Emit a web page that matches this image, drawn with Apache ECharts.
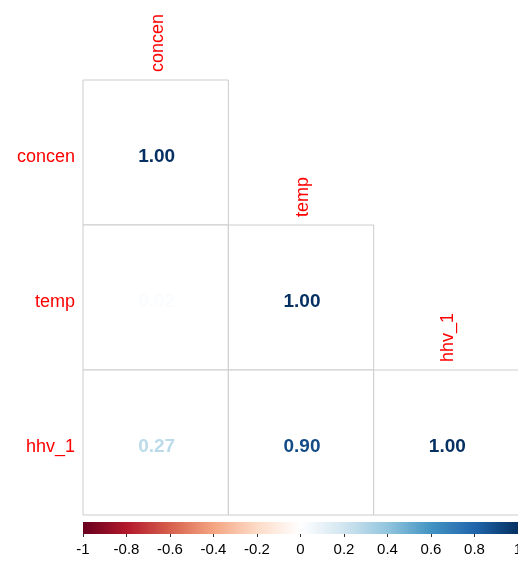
<!DOCTYPE html>
<html>
<head>
<meta charset="utf-8">
<script src="https://cdn.jsdelivr.net/npm/echarts@6/dist/echarts.min.js"></script>
<style>html,body{margin:0;padding:0;background:#fff;}#main{width:518px;height:564px;}</style>
</head>
<body>
<div id="main"></div>
<script>
const variables = ['concen', 'temp', 'hhv_1'];
const corrMatrix = [
  [1.00, 0.02, 0.27],
  [0.02, 1.00, 0.90],
  [0.27, 0.90, 1.00]
];
const palette = ["#67001F", "#B2182B", "#D6604D", "#F4A582", "#FDDBC7", "#FFFFFF", "#D1E5F0", "#92C5DE", "#4393C3", "#2166AC", "#053061"];
const colorbarMin = -1, colorbarMax = 1, colorbarStep = 0.2;

function hex2rgb(h){return [parseInt(h.substr(1,2),16),parseInt(h.substr(3,2),16),parseInt(h.substr(5,2),16)];}
function colorFor(v){
  let t = (v + 1) / 2 * (palette.length - 1);
  let i = Math.min(Math.floor(t), palette.length - 2);
  let f = t - i;
  const a = hex2rgb(palette[i]), b = hex2rgb(palette[i+1]);
  const c = a.map((x,k)=>Math.round(x + (b[k]-x)*f));
  return 'rgb(' + c.join(',') + ')';
}

const cells = [];
for (let r = 0; r < variables.length; r++) {
  for (let c = 0; c <= r; c++) {
    cells.push([c, r, corrMatrix[r][c]]);
  }
}

const font = '"Liberation Sans", Arial, sans-serif';
const chart = echarts.init(document.getElementById('main'));
chart.setOption({
  animation: false,
  backgroundColor: '#fff',
  grid: [
    {left: 83, top: 80, width: 436, height: 435, outerBoundsMode: 'none', containLabel: false},
    {left: 83, top: 522, width: 435, height: 12, outerBoundsMode: 'none', containLabel: false}
  ],
  xAxis: [
    {type: 'category', data: variables, gridIndex: 0, show: false},
    {type: 'value', gridIndex: 1, min: colorbarMin, max: colorbarMax, interval: colorbarStep,
     axisLine: {show: false}, splitLine: {show: false},
     axisTick: {show: true, length: 3, lineStyle: {color: '#333'}},
     axisLabel: {color: '#000', fontSize: 15, fontFamily: font, margin: 8,
       formatter: function(v){ return String(Math.round(v*10)/10); }}}
  ],
  yAxis: [
    {type: 'category', data: variables, gridIndex: 0, inverse: true,
     axisLine: {show: false}, axisTick: {show: false},
     axisLabel: {margin: 8,
       formatter: function(v){ return '{a|' + v + '}'; },
       rich: {a: {color: '#ff0000', fontSize: 18, fontFamily: font, padding: [9, 0, 0, 0]}}}},
    {type: 'value', gridIndex: 1, min: 0, max: 1, show: false}
  ],
  series: [
    {
      type: 'custom',
      xAxisIndex: 0, yAxisIndex: 0,
      data: cells,
      renderItem: function(params, api){
        const c = api.value(0), r = api.value(1), v = api.value(2);
        const p = api.coord([c, r]);
        const s = api.size([1, 1]);
        const children = [
          {type: 'rect', shape: {x: p[0]-s[0]/2, y: p[1]-s[1]/2, width: s[0], height: s[1]},
           style: {fill: '#fff', stroke: '#cccccc', lineWidth: 1}},
          {type: 'text', x: p[0]+1, y: p[1]+4,
           style: {text: v.toFixed(2), fill: colorFor(v), font: 'bold 19px ' + font,
                   align: 'center', verticalAlign: 'middle'}}
        ];
        if (c === r) {
          children.push({type: 'text', x: p[0]+2, y: p[1]-s[1]/2-8, rotation: Math.PI/2,
            style: {text: variables[c], fill: '#ff0000', font: '18px ' + font,
                    align: 'left', verticalAlign: 'middle'}});
        }
        return {type: 'group', children: children};
      }
    },
    {
      type: 'custom',
      xAxisIndex: 1, yAxisIndex: 1,
      data: [[colorbarMin, colorbarMax]],
      renderItem: function(params, api){
        const p0 = api.coord([api.value(0), 1]);
        const p1 = api.coord([api.value(1), 0]);
        const stops = palette.map((col, k) => ({offset: k/(palette.length-1), color: col}));
        return {type: 'rect', shape: {x: p0[0], y: p0[1], width: p1[0]-p0[0], height: p1[1]-p0[1]},
          style: {fill: new echarts.graphic.LinearGradient(0, 0, 1, 0, stops)}};
      }
    }
  ]
});
</script>
</body>
</html>
